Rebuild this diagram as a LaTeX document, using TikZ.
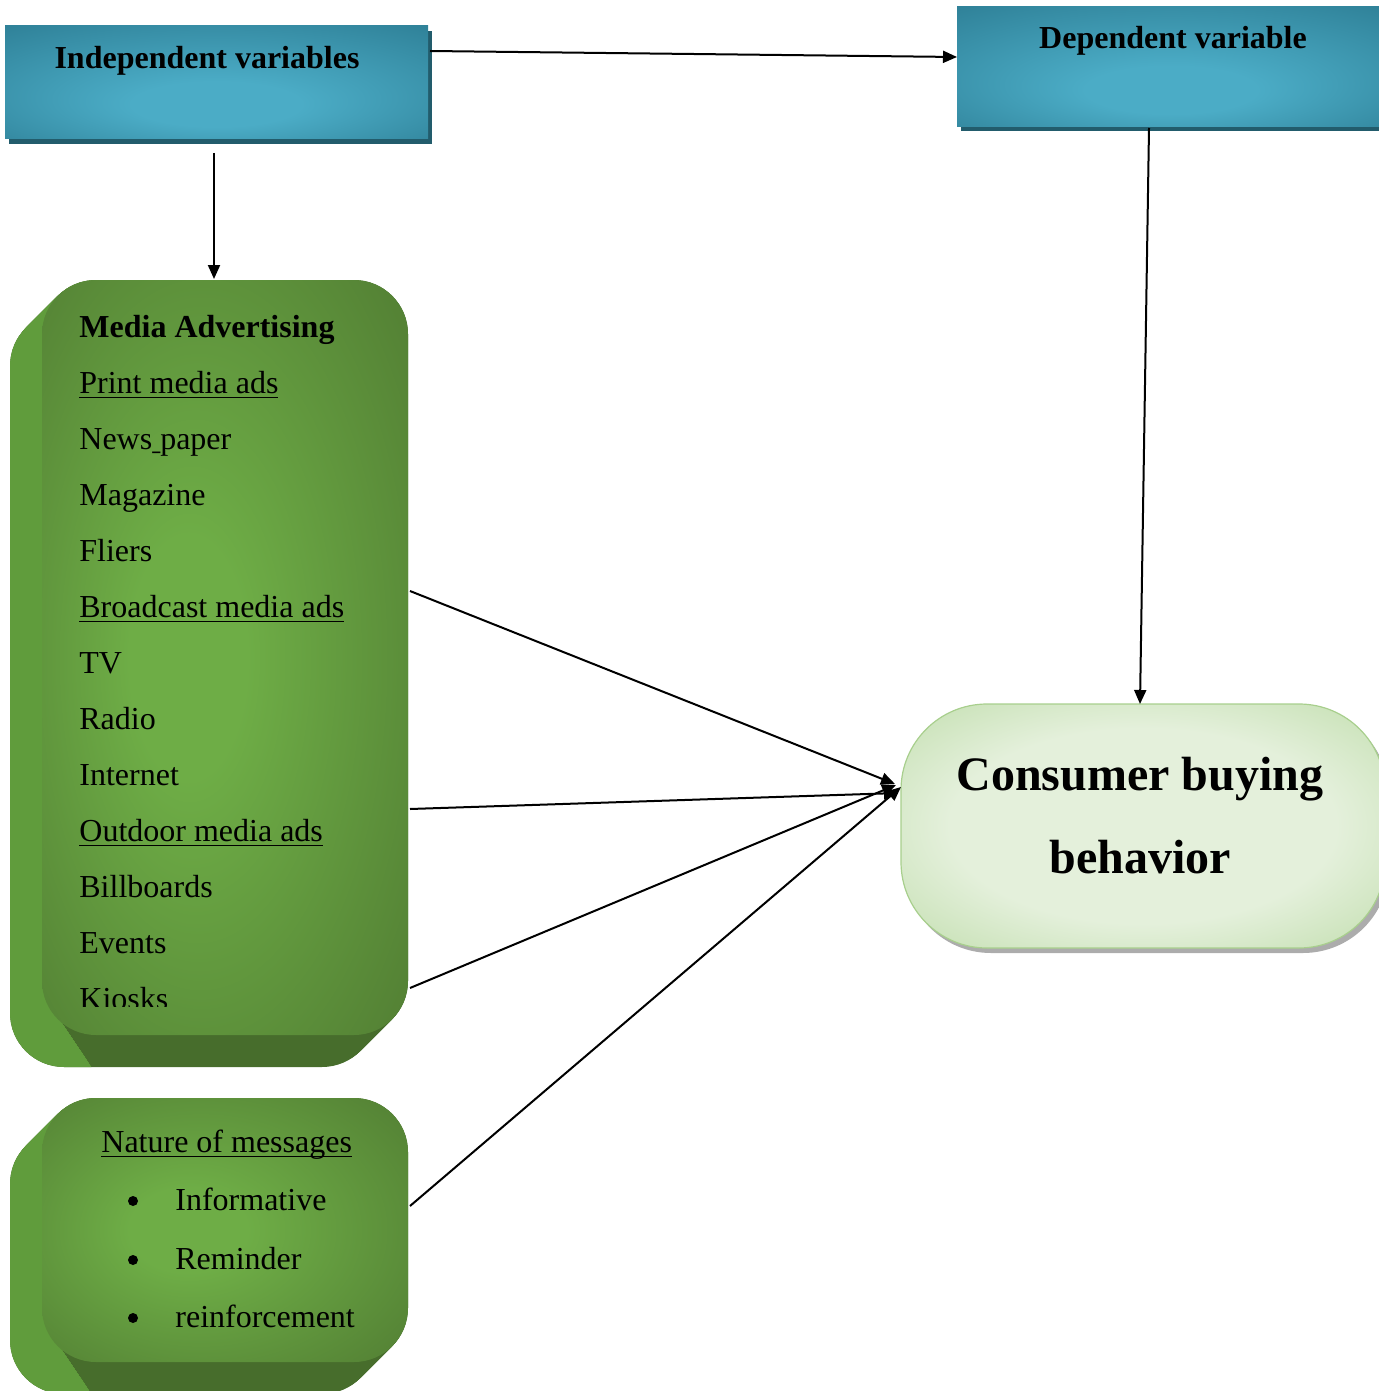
\documentclass[tikz,border=0pt]{standalone}
\usepackage{fontspec}
\setmainfont{Liberation Serif}
\usetikzlibrary{arrows.meta,calc}
\definecolor{tealL}{HTML}{4BACC6}
\definecolor{tealD}{HTML}{2F8198}
\definecolor{tealS}{HTML}{225C6C}
\definecolor{greenL}{HTML}{6EAD46}
\definecolor{greenD}{HTML}{538034}
\definecolor{greenSide}{HTML}{609C3C}
\definecolor{greenBot}{HTML}{476D2C}
\definecolor{paleL}{HTML}{E4F0DB}
\definecolor{paleD}{HTML}{ADD393}
\definecolor{paleB}{HTML}{A8CF8D}
\pgfdeclareradialshading{tealglow}{\pgfpoint{0bp}{-12bp}}{color(0bp)=(tealL); color(10bp)=(tealL); color(38bp)=(tealD); color(50bp)=(tealD)}
\pgfdeclareradialshading{greenglow}{\pgfpoint{-6bp}{0bp}}{color(0bp)=(greenL); color(8bp)=(greenL); color(36bp)=(greenD); color(50bp)=(greenD)}
\pgfdeclareradialshading{paleglow}{\pgfpoint{0bp}{0bp}}{color(0bp)=(paleL); color(20bp)=(paleL); color(46bp)=(paleD); color(50bp)=(paleD)}
\newcommand\myul[1]{\setbox0\hbox{#1}\rlap{\rule[-2.6pt]{\wd0}{0.7pt}}\box0}
\begin{document}
\begin{tikzpicture}[x=0.5pt,y=-0.5pt,
  txt/.style={font=\fontsize{16}{19}\selectfont, inner sep=0pt, anchor=base west},
  btxt/.style={font=\fontsize{16}{19}\selectfont\bfseries, inner sep=0pt, anchor=base},
  bigtxt/.style={font=\fontsize{24}{28}\selectfont\bfseries, inner sep=0pt, anchor=base},
  tealbox/.style={rectangle, shading=tealglow, draw=none, inner sep=0pt},
  greenface/.style={rectangle, rounded corners=27pt, shading=greenglow, draw=none, inner sep=0pt},
  paleface/.style={rectangle, rounded corners=43pt, shading=paleglow, draw=paleB, line width=0.6pt, inner sep=0pt},
  bullet/.style={circle, fill=black, minimum size=5pt, inner sep=0pt},
  conn/.style={draw=black, line width=1pt, -{Triangle[length=7pt,width=6pt]}}]
\useasboundingbox (0,0) rectangle (1379,1391);

% ---- teal header boxes
\fill[tealS] (9,31) rectangle (432,144);
\node[tealbox, minimum width=211.5pt, minimum height=56.5pt] (indep) at (216.5,82.5) {};
\node[btxt] (indeptxt) at (207,69) {Independent variables};

\fill[tealS] (961,12) rectangle (1390,131);
\node[tealbox, minimum width=214pt, minimum height=60pt] (dep) at (1171,67) {};
\node[btxt] (deptxt) at (1173,49) {Dependent variable};

% ---- media advertising block (3D bevel)
\foreach \t in {0,...,32}
  \fill[greenBot, rounded corners=27pt] ({42-\t},{280+\t}) rectangle ({408-\t},{1035+\t});
\begin{scope}
  \clip (-10,250) -- (110,250) -- (59,1019) -- (100,1080) -- (-10,1080) -- cycle;
  \foreach \t in {0,...,32}
    \fill[greenSide, rounded corners=27pt] ({42-\t},{280+\t}) rectangle ({408-\t},{1035+\t});
\end{scope}
\node[greenface, minimum width=183pt, minimum height=377.5pt] (media) at (225,657.5) {};

\node[btxt, anchor=base west] (ma) at (79,337) {Media Advertising};
\node[txt] (l1) at (79,393) {\myul{Print media ads}};
\node[txt] (l2) at (79,449) {News\scalebox{0.5}[1]{\_}paper};
\node[txt] (l3) at (79,505) {Magazine};
\node[txt] (l4) at (79,561) {Fliers};
\node[txt] (l5) at (79,617) {\myul{Broadcast media ads}};
\node[txt] (l6) at (79,673) {TV};
\node[txt] (l7) at (79,729) {Radio};
\node[txt] (l8) at (79,785) {Internet};
\node[txt] (l9) at (79,841) {\myul{Outdoor media ads}};
\node[txt] (l10) at (79,897) {Billboards};
\node[txt] (l11) at (79,953) {Events};
\begin{scope}
  \clip (0,900) rectangle (420,1006);
  \node[txt] (l12) at (79,1009) {Kiosks};
\end{scope}

% ---- nature of messages block
\foreach \t in {0,...,32}
  \fill[greenBot, rounded corners=27pt] ({42-\t},{1098+\t}) rectangle ({408-\t},{1362+\t});
\begin{scope}
  \clip (-10,1070) -- (110,1070) -- (59,1346) -- (100,1407) -- (-10,1407) -- cycle;
  \foreach \t in {0,...,32}
    \fill[greenSide, rounded corners=27pt] ({42-\t},{1098+\t}) rectangle ({408-\t},{1362+\t});
\end{scope}
\node[greenface, minimum width=183pt, minimum height=132pt] (nature) at (225,1230) {};

\node[txt] (n0) at (101,1152) {\myul{Nature of messages}};
\node[bullet] (b1) at (133,1201) {};
\node[txt] (n1) at (175,1210) {Informative};
\node[bullet] (b2) at (133,1260) {};
\node[txt] (n2) at (175,1269) {Reminder};
\node[bullet] (b3) at (133,1318) {};
\node[txt] (n3) at (175,1327) {reinforcement};

% ---- consumer buying behavior
\fill[gray!65, rounded corners=43pt] (905,709) rectangle (1389,953);
\node[paleface, minimum width=242pt, minimum height=122pt] (cbb) at (1143,826) {};
\node[bigtxt] (c1) at (1140,790) {Consumer buying};
\node[bigtxt] (c2) at (1140,873) {behavior};

% ---- connector end points
\coordinate (pIndR) at (430,51);
\coordinate (pDepL) at (957,57);
\coordinate (pIndB) at (214,153);
\coordinate (pMedT) at (214,279);
\coordinate (pDepB) at (1149,128);
\coordinate (pCbbT) at (1140,704);
\coordinate (pM1) at (410,591);
\coordinate (pM2) at (410,809);
\coordinate (pM3) at (410,988);
\coordinate (pN1) at (410,1206);
\coordinate (pC1) at (895,784);
\coordinate (pC2) at (898,793);
\coordinate (pC3) at (896,785);
\coordinate (pC4) at (901,787);

\draw[conn] (pIndR) -- (pDepL);
\draw[conn] (pIndB) -- (pMedT);
\draw[conn] (pDepB) -- (pCbbT);
\draw[conn] (pM1) -- (pC1);
\draw[conn] (pM2) -- (pC2);
\draw[conn] (pM3) -- (pC3);
\draw[conn] (pN1) -- (pC4);
\end{tikzpicture}
\end{document}
